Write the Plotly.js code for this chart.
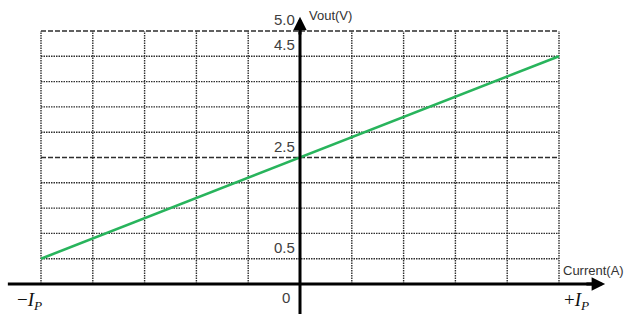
<!DOCTYPE html>
<html>
<head>
<meta charset="utf-8">
<script src="https://cdn.plot.ly/plotly-3.0.1.min.js"></script>
<style>html,body{margin:0;padding:0;background:#fff;}#chart{width:629px;height:314px;}</style>
</head>
<body>
<div id="chart"></div>
<script>
// ---- data ----
const currentX = [-5, 5];              // -Ip ... +Ip (grid units)
const voutY = [0.5, 4.5];              // Vout(V)
const gridX = [-5, -4, -3, -2, -1, 1, 2, 3, 4, 5];
const gridY = [0.5, 1, 1.5, 2, 2.5, 3, 3.5, 4, 4.5, 5];
const dashedY = [2.5, 5];
const yTickLabels = ['5.0', '4.5', '2.5', '0.5'];
const yTickValues = [5, 4.5, 2.5, 0.5];
const xEndLabels = ['\u2212<i>I<sub>P</sub></i>', '+<i>I<sub>P</sub></i>'];
const xEndValues = [-5, 5];

const gridColor = '#2e2e2e';
const shapes = [];
gridX.forEach(v => shapes.push({type:'line', xref:'x', yref:'y', x0:v, x1:v, y0:0, y1:5,
  line:{color:gridColor, width:1.4, dash:'1.5px,1px'}, layer:'below'}));
gridY.forEach(v => shapes.push({type:'line', xref:'x', yref:'y', x0:-5, x1:5, y0:v, y1:v,
  line:{color:gridColor, width:1.4, dash: dashedY.includes(v) ? '5px,2px' : '1.5px,1px'}, layer:'below'}));
// axis lines
shapes.push({type:'line', xref:'x', yref:'y', x0:-5.64, x1:5.8, y0:0, y1:0, line:{color:'#000', width:3}});
shapes.push({type:'line', xref:'x', yref:'y', x0:0, x1:0, y0:-0.7, y1:5.2, line:{color:'#000', width:3}});

const annotations = [];
// arrowheads
annotations.push({x:5.89, y:0, ax:5.5, ay:0, xref:'x', yref:'y', axref:'x', ayref:'y', text:'',
  showarrow:true, arrowhead:2, arrowsize:0.9, arrowwidth:3, arrowcolor:'#000', standoff:0});
annotations.push({x:0, y:5.28, ax:0, ay:4.9, xref:'x', yref:'y', axref:'x', ayref:'y', text:'',
  showarrow:true, arrowhead:2, arrowsize:0.9, arrowwidth:3, arrowcolor:'#000', standoff:0});
const labelFont = {family:'Liberation Sans, Arial, sans-serif', size:15, color:'#404040'};
yTickLabels.forEach((t, i) => annotations.push({x:0, y:yTickValues[i], xref:'x', yref:'y', text:t,
  showarrow:false, xanchor:'right', yanchor:'bottom', xshift:-3, yshift:1, font:labelFont}));
annotations.push({x:0, y:0, xref:'x', yref:'y', text:'0', showarrow:false, xanchor:'right', yanchor:'top',
  xshift:-8, yshift:-3, font:labelFont});
annotations.push({x:0, y:5.28, xref:'x', yref:'y', text:'Vout(V)', showarrow:false, xanchor:'left', yanchor:'middle',
  xshift:7, yshift:1, font:{family:'Liberation Sans, Arial, sans-serif', size:13, color:'#333'}});
annotations.push({x:5, y:0, xref:'x', yref:'y', text:'Current(A)', showarrow:false, xanchor:'left', yanchor:'bottom',
  xshift:2, yshift:4, font:{family:'Liberation Sans, Arial, sans-serif', size:13, color:'#333'}});
xEndLabels.forEach((t, i) => annotations.push({x:xEndValues[i], y:0, xref:'x', yref:'y', text:t, showarrow:false,
  xanchor:'center', yanchor:'top', xshift: i === 0 ? -12 : 17, yshift:-3,
  font:{family:'Liberation Serif, DejaVu Serif, serif', size:19, color:'#111'}}));

const trace = {x: currentX, y: voutY, type:'scatter', mode:'lines',
  line:{color:'#28b45c', width:2.6}, hoverinfo:'skip'};

const layout = {
  width:629, height:314,
  margin:{l:0, r:0, t:0, b:0},
  paper_bgcolor:'#fff', plot_bgcolor:'#fff',
  showlegend:false,
  xaxis:{range:[-5.7915, 6.3514], visible:false, fixedrange:true},
  yaxis:{range:[-0.5929, 5.6126], visible:false, fixedrange:true},
  shapes: shapes,
  annotations: annotations
};
Plotly.newPlot('chart', [trace], layout, {staticPlot:true, displayModeBar:false});
</script>
</body>
</html>
